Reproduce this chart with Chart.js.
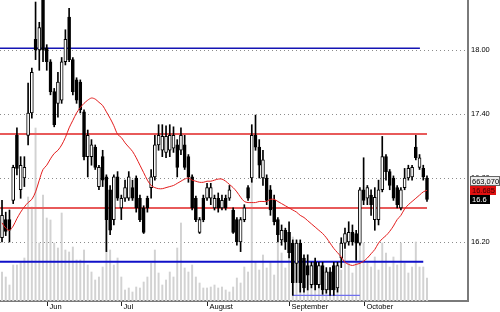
<!DOCTYPE html>
<html><head><meta charset="utf-8">
<script src="https://cdn.jsdelivr.net/npm/chart.js@4.4.0/dist/chart.umd.min.js"></script>
<style>html,body{margin:0;padding:0;background:#fff;overflow:hidden}canvas{display:block}</style>
</head><body>
<canvas id="c" width="500" height="312"></canvas>
<script>
// ---- data (one entry per trading day) ----
const openArr = [
16.24,16.41,16.41,16.59,17.20,16.69,16.80,17.20,17.41,18.10,
18.00,18.52,18.02,17.89,17.61,17.50,17.53,17.89,18.31,17.91,
17.72,17.70,17.42,17.00,17.00,17.09,16.72,17.00,16.81,16.69,
16.41,16.81,16.52,16.61,16.61,16.71,16.80,16.61,16.52,16.61,
16.71,16.81,17.11,17.06,17.04,17.06,17.08,17.11,17.06,17.11,
17.00,16.81,16.61,16.29,16.61,16.61,16.61,16.52,16.61,16.52,
16.61,16.61,16.50,16.41,16.20,16.41,16.71,16.80,17.20,17.09,
16.80,16.80,16.69,16.59,16.41,16.22,16.31,16.29,16.19,16.00,
16.19,16.05,15.98,15.80,16.01,15.80,15.98,15.75,15.92,15.98,
15.77,16.05,16.19,16.20,16.29,16.28,16.19,16.69,16.61,16.64,
16.41,16.41,16.69,17.00,16.86,16.80,16.71,16.52,16.71,16.80,
16.81,17.09,16.90,16.89,16.80];
const highArr = [
16.59,16.48,16.50,16.92,17.27,17.00,17.00,17.69,17.83,18.45,
18.26,18.56,18.05,17.91,17.64,17.79,17.93,18.19,18.39,17.93,
17.74,17.72,17.44,17.25,17.16,17.11,16.92,17.06,16.83,16.73,
16.83,16.86,16.64,16.78,16.86,16.78,16.82,16.64,16.54,16.63,
16.88,17.20,17.30,17.30,17.29,17.30,17.28,17.16,17.27,17.20,
17.02,16.83,16.63,16.43,16.64,16.75,16.75,16.64,16.66,16.64,
16.64,16.73,16.52,16.43,16.43,16.55,16.73,17.30,17.39,17.16,
17.06,16.83,16.73,16.64,16.43,16.36,16.33,16.39,16.22,16.22,
16.22,16.08,16.08,16.01,16.05,16.01,16.01,15.96,15.96,16.01,
16.01,16.24,16.33,16.39,16.36,16.31,16.71,16.99,16.73,16.69,
16.71,16.78,17.19,17.02,16.88,16.82,16.73,16.71,16.89,16.92,
16.92,17.20,17.02,16.92,16.82];
const lowArr = [
16.20,16.26,16.20,16.56,16.83,16.61,16.72,17.11,17.36,17.91,
17.81,17.89,17.81,17.58,17.28,17.37,17.50,17.86,17.89,17.58,
17.50,17.41,16.97,16.81,16.92,16.88,16.69,16.72,16.11,16.27,
16.36,16.59,16.41,16.58,16.59,16.59,16.48,16.39,16.28,16.48,
16.61,16.78,17.06,17.00,16.99,17.00,17.04,16.81,17.02,16.88,
16.76,16.50,16.39,16.28,16.39,16.59,16.55,16.50,16.48,16.50,
16.50,16.59,16.28,16.17,16.11,16.39,16.59,16.76,17.06,16.80,
16.73,16.55,16.45,16.36,16.20,16.17,16.13,16.05,15.70,15.82,
15.73,15.73,15.75,15.77,15.75,15.77,15.71,15.72,15.70,15.70,
15.73,15.96,16.14,16.17,16.17,16.03,16.17,16.55,16.55,16.45,
16.31,16.36,16.67,16.78,16.69,16.59,16.52,16.50,16.69,16.78,
16.78,16.97,16.88,16.78,16.58];
const closeArr = [
16.45,16.30,16.31,16.90,16.89,16.92,16.90,17.41,17.79,18.00,
18.21,18.00,17.89,17.61,17.30,17.70,17.89,18.10,17.91,17.61,
17.53,17.44,17.00,17.20,17.11,16.90,16.90,16.78,16.41,16.31,
16.81,16.61,16.61,16.71,16.81,16.61,16.52,16.41,16.29,16.52,
16.81,17.11,17.20,17.19,17.19,17.20,17.20,16.90,17.20,16.90,
16.81,16.52,16.41,16.41,16.41,16.71,16.71,16.61,16.52,16.59,
16.52,16.69,16.29,16.20,16.41,16.52,16.61,17.20,17.09,16.92,
16.97,16.59,16.50,16.39,16.27,16.31,16.20,16.10,15.82,16.19,
15.82,15.77,15.89,15.98,15.80,15.98,15.75,15.92,15.75,15.75,
15.98,16.19,16.28,16.29,16.20,16.19,16.69,16.59,16.71,16.55,
16.62,16.69,17.00,16.86,16.73,16.61,16.55,16.69,16.80,16.89,
16.90,16.99,16.99,16.81,16.60];
const maArr = [
16.38,16.33,16.31,16.35,16.42,16.48,16.53,16.57,16.60,16.67,
16.78,16.88,16.92,16.98,17.03,17.06,17.11,17.18,17.27,17.34,
17.41,17.46,17.50,17.53,17.55,17.54,17.51,17.48,17.42,17.36,
17.29,17.21,17.18,17.13,17.09,17.05,16.99,16.92,16.85,16.78,
16.73,16.71,16.70,16.70,16.71,16.72,16.73,16.75,16.77,16.79,
16.80,16.78,16.77,16.76,16.76,16.77,16.77,16.78,16.79,16.79,
16.77,16.74,16.71,16.67,16.62,16.58,16.57,16.57,16.57,16.58,
16.58,16.58,16.60,16.60,16.58,16.56,16.54,16.52,16.50,16.48,
16.45,16.43,16.40,16.37,16.34,16.31,16.28,16.24,16.19,16.14,
16.10,16.06,16.01,15.99,15.98,15.99,16.00,16.02,16.05,16.09,
16.13,16.19,16.23,16.26,16.30,16.35,16.41,16.45,16.51,16.55,
16.58,16.61,16.64,16.67,16.685];
const volumeK = [ // thousands of shares
841,696,464,1044,1044,1131,1247,3016,2726,5017,
1682,3074,2407,2349,1682,1537,2552,1479,1421,1566,
1189,1189,1479,1044,841,609,696,986,2784,1479,
1044,1247,696,319,377,261,406,377,551,696,
1102,1479,812,464,609,841,696,1537,2262,957,
841,1044,696,522,377,377,406,464,377,406,
319,261,406,667,522,986,841,3596,1131,899,
1334,957,1131,754,2204,1392,957,1334,1856,1334,
1305,1131,609,841,696,609,754,899,754,1102,
696,899,1479,1102,812,1682,2784,1682,1102,986,
1276,899,1682,1392,986,1276,1044,1682,1102,812,
986,1711,986,986,663.07];
const priceTicks = [16.20, 16.80, 17.40, 18.00];
const monthTickIdx = [12, 32, 55, 77, 97];
const monthLabels = ['Jun', 'Jul', 'August', 'September', 'October'];
// horizontal support / resistance levels (price, first day, last day; null = from left edge)
const levelValues = [18.016, 17.212, 16.52, 16.015, 15.70];
const levelStart  = [null, null, null, null, 78];
const levelEnd    = [112.1, 114, 114, 113, 96];

// ---- styling ----
const levelStyles = [
  {color:'#1414b4', width:1.6},
  {color:'#e85a5a', width:2},
  {color:'#e85a5a', width:2},
  {color:'#1010c8', width:2},
  {color:'#7070ee', width:1.2}
];
const X_MIN = -0.54, X_MAX = 125;
const FONT = '"Liberation Sans", Arial, sans-serif';
const idx = openArr.map((_, i) => i);

const datasets = [];
datasets.push({
  type:'bar', data: idx.map(i => ({x:i, y:volumeK[i]})), yAxisID:'yv',
  backgroundColor:'#d2d2d2', barThickness:1.3, grouped:false, order:10
});
levelValues.forEach((v, k) => {
  datasets.push({
    type:'line', yAxisID:'y',
    data:[{x: levelStart[k] === null ? X_MIN : levelStart[k], y:v}, {x: levelEnd[k], y:v}],
    borderColor: levelStyles[k].color, borderWidth: levelStyles[k].width,
    pointRadius:0, order:5
  });
});
datasets.push({
  type:'bar', yAxisID:'y', data: idx.map(i => ({x:i, y:[lowArr[i], highArr[i]]})),
  backgroundColor:'#000', barThickness:1, grouped:false, order:4
});
datasets.push({
  type:'bar', yAxisID:'y', data: idx.map(i => ({x:i, y:[openArr[i], closeArr[i]]})),
  backgroundColor: idx.map(i => closeArr[i] >= openArr[i] ? '#ffffff' : '#000000'),
  borderColor:'#000', borderWidth:1, borderSkipped:false, barThickness:3,
  grouped:false, order:3
});
datasets.push({
  type:'line', yAxisID:'y', data: idx.map(i => ({x:i, y:maArr[i]})),
  borderColor:'#e41e1e', borderWidth:1, pointRadius:0, tension:0.3, order:1
});

function box(ctx, x, yc, w, h, bg, border, fg, text){
  const top = Math.round(yc - h/2);
  ctx.fillStyle = bg; ctx.fillRect(x, top, w, h);
  if (border){ ctx.strokeStyle = border; ctx.lineWidth = 1; ctx.strokeRect(x+0.5, top+0.5, w-1, h-1); }
  ctx.fillStyle = fg; ctx.textAlign = 'left'; ctx.textBaseline = 'middle';
  ctx.fillText(text, x + 2, top + h/2 + 0.5);
}

const decor = {
  id:'decor',
  beforeDraw(chart){
    const c = chart.ctx; c.save(); c.fillStyle = '#fff'; c.fillRect(0,0,chart.width,chart.height); c.restore();
  },
  afterDraw(chart){
    const {ctx, chartArea, scales} = chart;
    const xs = scales.x, ys = scales.y;
    ctx.save();
    ctx.font = '7.5px ' + FONT;
    ctx.strokeStyle = '#222'; ctx.lineWidth = 1;
    monthTickIdx.forEach((m, k) => {
      const px = Math.round(xs.getPixelForValue(m)) + 0.5;
      ctx.beginPath(); ctx.moveTo(px, chartArea.bottom + 1); ctx.lineTo(px, chartArea.bottom + 5); ctx.stroke();
      ctx.fillStyle = '#000'; ctx.textAlign = 'left'; ctx.textBaseline = 'top';
      ctx.fillText(monthLabels[k], px + 2, chartArea.bottom + 2.5);
    });
    const last = closeArr.length - 1;
    const yc = ys.getPixelForValue(closeArr[last]);
    const ym = ys.getPixelForValue(maArr[last]);
    const lx = chartArea.right + 2;
    const volText = Math.round(volumeK[last] * 1000).toLocaleString('en-US');
    box(ctx, lx, ym - 9.5, 30, 10, '#ececec', '#666', '#000', volText);
    box(ctx, lx, ym, 26, 9, '#e01010', null, '#400000', String(maArr[last]));
    box(ctx, lx, yc, 20, 9, '#000', null, '#fff', String(closeArr[last]));
    ctx.restore();
  }
};

new Chart(document.getElementById('c'), {
  type:'bar',
  data:{ datasets },
  plugins:[decor],
  options:{
    responsive:false, animation:false, events:[],
    layout:{padding:0},
    plugins:{legend:{display:false}, tooltip:{enabled:false}},
    scales:{
      x:{
        type:'linear', min:X_MIN, max:X_MAX, offset:false, bounds:'ticks',
        grid:{display:false, drawTicks:false, offset:false}, ticks:{display:false},
        border:{display:true, color:'#7a7a7a', width:2},
        afterFit(s){ s.height = 11; s.paddingLeft = 0; s.paddingRight = 0; }
      },
      y:{
        position:'right', min:15.647, max:18.469,
        afterBuildTicks(s){ s.ticks = priceTicks.map(v => ({value:v})); },
        ticks:{ callback:v => Number(v).toFixed(2), color:'#000', font:{family:FONT, size:7.5}, padding:3 },
        grid:{ color:'#8c8c8c', lineWidth:1, drawTicks:false },
        border:{ display:true, color:'#7a7a7a', width:2, dash:[1,3] },
        afterFit(s){ s.width = 32; s.paddingTop = 0; s.paddingBottom = 0; }
      },
      yv:{ display:false, min:0, max:8729 }
    }
  }
});
</script>
</body></html>
